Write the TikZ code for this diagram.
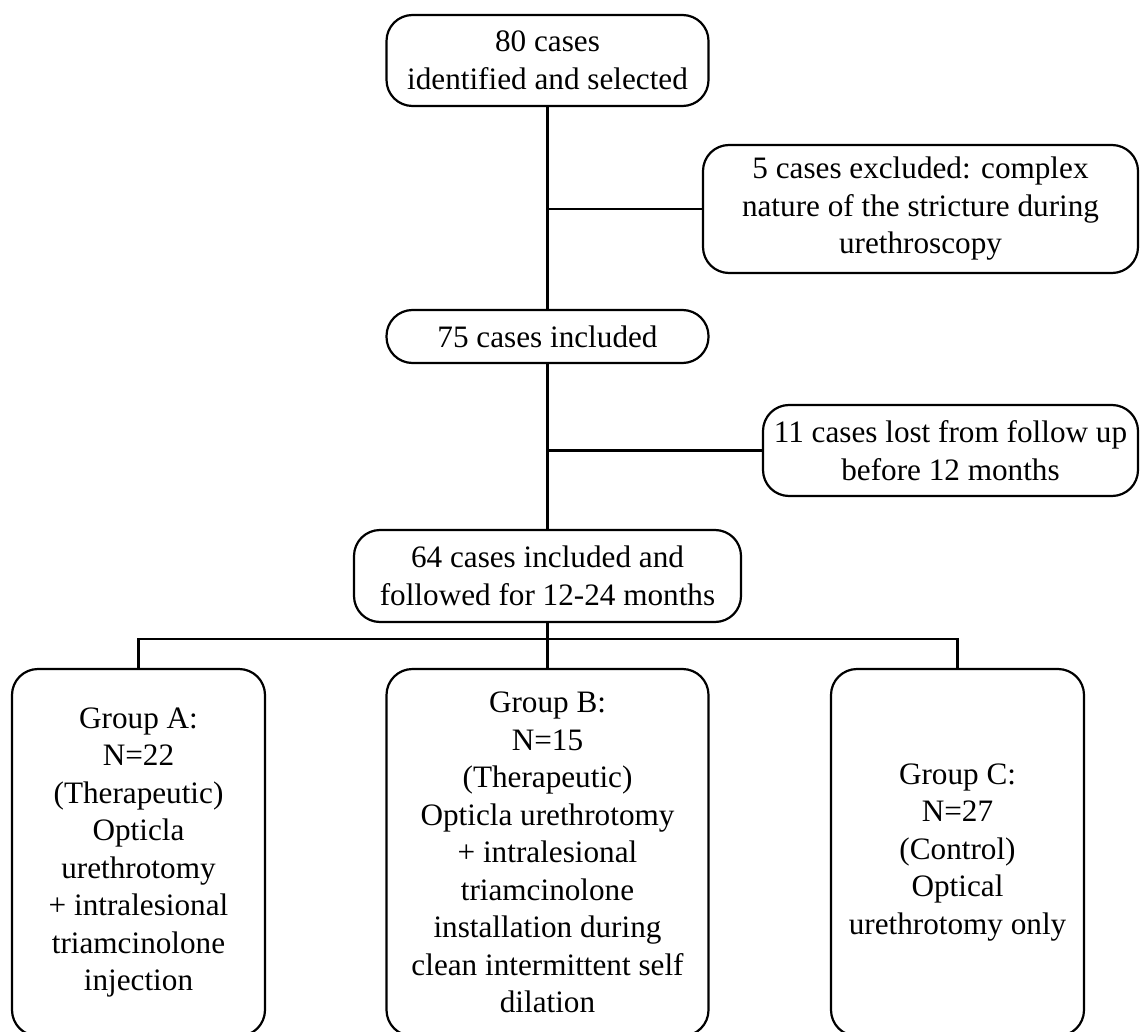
\documentclass[tikz,border=0pt]{standalone}
\usepackage{fontspec}
\setmainfont{Liberation Serif}
\begin{document}
\begin{tikzpicture}[x=0.5pt,y=-0.5pt,
  box/.style={draw, line width=1.1pt, rounded corners=13pt, align=center, inner sep=0pt,
    font=\fontsize{15.6pt}{18.75pt}\selectfont},
  link/.style={line width=1.1pt}]
\clip (0,0) rectangle (1140,1032);
\useasboundingbox (0,0) rectangle (1140,1032);
\fill[white] (0,0) rectangle (1140,1032);

\node[box, minimum width=161pt, minimum height=45.5pt] (n80) at (547.5,60.5) {80 cases\\identified and selected};
\node[box, minimum width=217.5pt, minimum height=64pt] (excl) at (920.5,209) {5 cases excluded: complex\\nature of the stricture during\\urethroscopy};
\node[box, minimum width=161pt, minimum height=26.5pt] (n75) at (547.5,336.5) {75 cases included};
\node[box, minimum width=187.5pt, minimum height=45.5pt] (lost) at (950.5,450.5) {11 cases lost from follow up\\before 12 months};
\node[box, minimum width=193.5pt, minimum height=46pt] (n64) at (547.5,576) {64 cases included and\\followed for 12-24 months};

\node[box, minimum width=126.5pt, minimum height=183.5pt] (gA) at (138.5,852.5) {Group A:\\N=22\\(Therapeutic)\\Opticla\\urethrotomy\\+ intralesional\\triamcinolone\\injection};
\node[box, minimum width=161pt, minimum height=183.5pt] (gB) at (547.5,852.5) {Group B:\\N=15\\(Therapeutic)\\Opticla urethrotomy\\+ intralesional\\triamcinolone\\installation during\\clean intermittent self\\dilation};
\node[box, minimum width=126.5pt, minimum height=183.5pt] (gC) at (957.5,852.5) {Group C:\\N=27\\(Control)\\Optical\\urethrotomy only};

\draw[link] (n80.south) -- (n75.north);
\draw[link] (n80.south |- excl.west) -- (excl.west);
\draw[link] (n75.south) -- (n64.north);
\draw[link] (n75.south |- lost.west) -- (lost.west);
\draw[link] (n64.south) -- (gB.north);
\coordinate (bus) at (547.5,639);
\draw[link] (gA.north) -- (gA.north |- bus) -- (gC.north |- bus) -- (gC.north);
\end{tikzpicture}
\end{document}
